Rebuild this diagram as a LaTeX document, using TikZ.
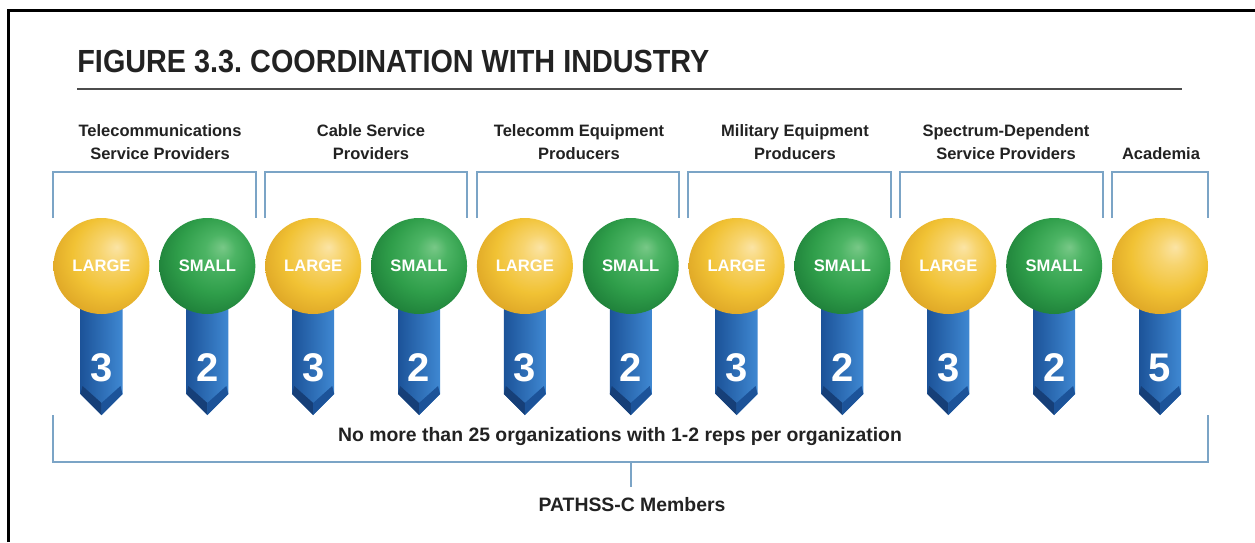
\documentclass[tikz,border=0pt]{standalone}
\usepackage{fontspec}
\setmainfont{Liberation Sans}
\usepackage{xcolor}
\usepackage{graphicx}

\definecolor{bracketblue}{HTML}{7BA4C6}
\definecolor{inktext}{HTML}{222222}
\definecolor{ribbondark}{HTML}{1C5399}
\definecolor{ribbonmid}{HTML}{2A6FBE}
\definecolor{ribbonlight}{HTML}{3F88D2}
\definecolor{ribbondeep}{HTML}{163F78}

\pgfdeclareradialshading{largeball}{\pgfpoint{8bp}{10bp}}{%
  color(0bp)=(rgb,255:red,251;green,228;blue,165);
  color(8bp)=(rgb,255:red,247;green,212;blue,110);
  color(20bp)=(rgb,255:red,241;green,194;blue,52);
  color(31bp)=(rgb,255:red,222;green,166;blue,38);
  color(40bp)=(rgb,255:red,184;green,132;blue,24);
  color(50bp)=(rgb,255:red,184;green,132;blue,24)}
\pgfdeclareradialshading{smallball}{\pgfpoint{8bp}{10bp}}{%
  color(0bp)=(rgb,255:red,120;green,200;blue,135);
  color(8bp)=(rgb,255:red,76;green,180;blue,100);
  color(20bp)=(rgb,255:red,47;green,158;blue,74);
  color(31bp)=(rgb,255:red,30;green,127;blue,57);
  color(40bp)=(rgb,255:red,20;green,94;blue,42);
  color(50bp)=(rgb,255:red,20;green,94;blue,42)}

\begin{document}
\begin{tikzpicture}[x=0.5pt,y=-0.5pt,
    ball/.style={circle, minimum size=48pt, inner sep=0pt, shade,
      font=\bfseries\fontsize{8.3}{10}\selectfont, text=white},
    large/.style={ball, shading=largeball},
    small/.style={ball, shading=smallball},
    count/.style={font=\bfseries\fontsize{20}{24}\selectfont, text=white},
    header/.style={align=center, text=inktext,
      font=\bfseries\fontsize{8.25}{11.5}\selectfont},
    note/.style={text=inktext, font=\bfseries\fontsize{9.7}{12}\selectfont},
    bracketline/.style={draw=bracketblue, line width=1pt}
  ]
  \useasboundingbox[fill=white] (0,0) rectangle (1255,542);
  \draw[line width=1.5pt] (8,542) -- (8,10) -- (1255,10);

  \node[anchor=west, inner sep=0pt, text=inktext,
    font=\bfseries\fontsize{16}{19}\selectfont] (title) at (77,62)
    {\scalebox{0.9}[1]{FIGURE 3.3.\ COORDINATION WITH INDUSTRY}};
  \coordinate (ruleend) at (1182,89);
  \draw[black!70, line width=1pt] (title.west |- ruleend) -- (ruleend);

  \foreach \kind/\lbl/\num [count=\i from 0] in {large/LARGE/3, small/SMALL/2,
      large/LARGE/3, small/SMALL/2, large/LARGE/3, small/SMALL/2,
      large/LARGE/3, small/SMALL/2, large/LARGE/3, small/SMALL/2, large//5}{
    \pgfmathsetmacro\x{101.5+105.85*\i}
    \shade[left color=ribbondark, middle color=ribbonmid, right color=ribbonlight]
      (\x-21,266) -- (\x-21,394) -- (\x,415) -- (\x+21,394) -- (\x+21,266) -- cycle;
    \fill[ribbondeep] (\x-21,394) -- (\x,415) -- (\x,403) -- (\x-19,386) -- cycle;
    \fill[ribbondark] (\x+21,394) -- (\x,415) -- (\x,403) -- (\x+19,386) -- cycle;
    \node[count] (n\i) at (\x,368) {\num};
    \node[\kind] (s\i) at (\x,266) {\lbl};
  }

  \node[header] (g1) at (160,142) {Telecommunications\\Service Providers};
  \node[header] (g2) at (371,142) {Cable Service\\Providers};
  \node[header] (g3) at (579,142) {Telecomm Equipment\\Producers};
  \node[header] (g4) at (795,142) {Military Equipment\\Producers};
  \node[header] (g5) at (1006,142) {Spectrum-Dependent\\Service Providers};
  \node[header] (g6) at (1161,154) {Academia};

  \coordinate (btop) at (0,172);
  \coordinate (bfoot) at (0,218);
  \foreach \a/\b in {0/1, 2/3, 4/5, 6/7, 8/9, 10/10}
    \draw[bracketline] (s\a.west |- bfoot) -- (s\a.west |- btop)
      -- (s\b.east |- btop) -- (s\b.east |- bfoot);

  \node[note] (limit) at (620,437)
    {No more than 25 organizations with 1-2 reps per organization};
  \node[note] (members) at (632,505) {PATHSS-C Members};

  \coordinate (lowtop) at (0,415);
  \coordinate (lowbar) at (0,462);
  \coordinate (stub) at (631,487);
  \draw[bracketline] (s0.west |- lowtop) -- (s0.west |- lowbar)
    -- (s10.east |- lowbar) -- (s10.east |- lowtop);
  \draw[bracketline] (stub |- lowbar) -- (stub);
\end{tikzpicture}
\end{document}
